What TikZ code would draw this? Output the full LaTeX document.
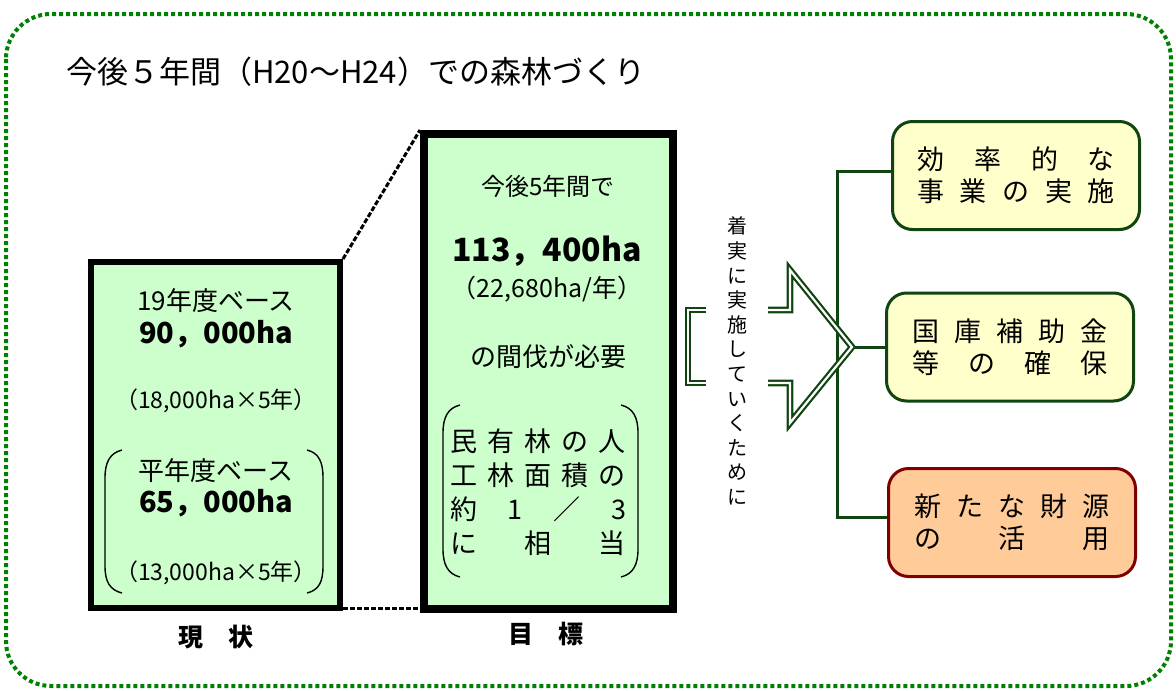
\documentclass[tikz,border=0pt]{standalone}
\usepackage{fontspec}
\setmainfont{Noto Sans CJK JP}
\definecolor{lgreen}{RGB}{204,255,204}
\definecolor{lyellow}{RGB}{255,255,204}
\definecolor{peach}{RGB}{255,204,153}
\definecolor{dgreen}{RGB}{16,68,16}
\definecolor{dred}{RGB}{128,0,0}
\definecolor{fgreen}{RGB}{0,128,0}
\newcommand\fsz[2]{\fontsize{#1}{#2}\selectfont}
\begin{document}
\begin{tikzpicture}[x=1pt,y=-1pt,
 frame/.style={draw=fgreen, line width=4pt, dash pattern=on 4pt off 3pt, rounded corners=45pt},
 bigbox/.style={draw=black, fill=lgreen, rectangle, inner sep=0pt},
 lbl/.style={inner sep=0pt, anchor=center, align=center},
 paren/.style={draw=black, line width=1.4pt},
 dashline/.style={draw=black, line width=3pt, dash pattern=on 5pt off 2pt},
 conn/.style={draw=dgreen, line width=3pt},
 dblarrow/.style={draw=dgreen, double=white, line width=2.2pt, double distance=2.2pt},
 ybox/.style={draw=dgreen, fill=lyellow, line width=3pt, rounded corners=20pt, minimum width=247pt, minimum height=108pt, inner sep=0pt, align=center, font=\fsz{27}{32}},
 obox/.style={ybox, draw=dred, fill=peach},
]
\useasboundingbox (0,0) rectangle (1176,691);
\draw[frame] (6,14) rectangle (1171,686);

% title
\node[lbl, anchor=west, font=\fsz{31}{37}] (title) at (66,72) {今後５年間（H20～H24）での森林づくり};

% current state box
\node[bigbox, line width=6pt, minimum width=249pt, minimum height=346pt] (cur) at (215.5,435) {};
% goal box
\node[bigbox, line width=8pt, minimum width=249pt, minimum height=475pt] (goal) at (548.5,371.5) {};

\draw[dashline] (cur.north east) -- (goal.north west);
\draw[dashline] ([yshift=3pt]cur.south east) -- ([yshift=3pt]cur.south east -| goal.west);

% current texts
\node[lbl, font=\fsz{26}{31}] (c1) at (216,301) {19年度ベース};
\node[lbl, font=\bfseries\fsz{29}{34}] (c2) at (216,334) {90，000ha};
\node[lbl, font=\fsz{23}{27}] (c3) at (216,401) {（18,000ha×5年）};
\node[lbl, font=\fsz{26}{31}] (c4) at (216,471) {平年度ベース};
\node[lbl, font=\bfseries\fsz{29}{34}] (c5) at (216,503) {65，000ha};
\node[lbl, font=\fsz{23}{27}] (c6) at (216,573) {（13,000ha×5年）};
\node[lbl, font=\bfseries\fsz{25}{30}] (cl) at (216,637) {現　状};
\draw[paren] (122,450) .. controls (110,453) and (105,462) .. (105,478) -- (105,566) .. controls (105,582) and (110,590) .. (122,593);
\draw[paren] (307,450) .. controls (319,453) and (323,462) .. (323,478) -- (323,566) .. controls (323,582) and (319,590) .. (307,593);

% goal texts
\node[lbl, font=\fsz{24}{29}] (g1) at (548,186) {今後5年間で};
\node[lbl, font=\bfseries\fsz{32}{38}] (g2) at (547,251) {113，400ha};
\node[lbl, font=\fsz{25}{30}] (g3) at (547,289) {（22,680ha/年）};
\node[lbl, font=\fsz{26}{31}] (g4) at (548,357) {の間伐が必要};
\node[lbl, font=\fsz{27}{34}] (g5) at (538,492) {\makebox[176pt]{民\hfill 有\hfill 林\hfill の\hfill 人}\\\makebox[176pt]{工\hfill 林\hfill 面\hfill 積\hfill の}\\\makebox[176pt]{約\hfill 1\hfill ／\hfill 3}\\\makebox[176pt]{に\hfill 相\hfill 当}};
\node[lbl, font=\bfseries\fsz{25}{30}] (gl) at (546,634) {目　標};
\draw[paren] (460,405) .. controls (448,408) and (443,417) .. (443,433) -- (443,549) .. controls (443,565) and (448,574) .. (460,577);
\draw[paren] (621,405) .. controls (633,408) and (638,417) .. (638,433) -- (638,549) .. controls (638,565) and (633,574) .. (621,577);

% right boxes
\node[ybox] (b1) at (1016,175.5) {\makebox[198pt]{効\hfill 率\hfill 的\hfill な}\\\makebox[198pt]{事\hfill 業\hfill の\hfill 実\hfill 施}};
\node[ybox] (b2) at (1010,347) {\makebox[195pt]{国\hfill 庫\hfill 補\hfill 助\hfill 金}\\\makebox[195pt]{等\hfill の\hfill 確\hfill 保}};
\node[obox] (b3) at (1012,522.5) {\makebox[195pt]{新\hfill た\hfill な\hfill 財\hfill 源}\\\makebox[195pt]{の\hfill 活\hfill 用}};

% connectors
\coordinate (sp1) at (837,171);
\coordinate (sp3) at (837,517);
\coordinate (tip) at (852,347);
\draw[conn] (b1.west |- sp1) -| (sp3) -- (b3.west |- sp3);
\draw[conn] (tip) -- (b2.west |- tip);

% double outlined arrow
\draw[dblarrow] (706,310) -- (688,310) -- (688,383) -- (706,383);
\draw[dblarrow] (768,310) -- (790,310) -- (790,270) -- (tip) -- (790,423) -- (790,383) -- (768,383);

% vertical text
\node[lbl, font=\fsz{20}{24.6}] (vt) at (737,361) {着\\実\\に\\実\\施\\し\\て\\い\\く\\た\\め\\に};
\end{tikzpicture}
\end{document}
